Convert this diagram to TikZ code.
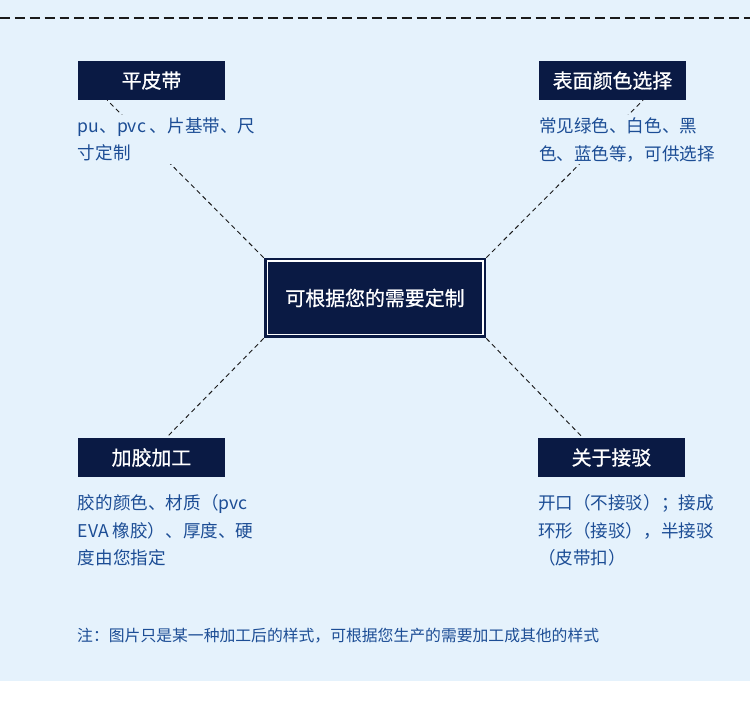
\documentclass[tikz,border=0pt]{standalone}
\usepackage{fontspec}
\setmainfont{Noto Sans CJK SC}
\newfontfamily\headfont[FakeBold=0.8]{Noto Sans CJK SC}
\usepackage{xcolor}
\definecolor{dark-navy}{HTML}{0A1A44}
\definecolor{text-blue}{HTML}{1C4D95}
\definecolor{pale-blue}{HTML}{E5F2FC}
\definecolor{line-grey}{HTML}{1A1A1A}
\usepackage{tikz}
\usetikzlibrary{positioning}
\usetikzlibrary{calc}
\tikzset{box/.style = {fill=dark-navy, text=white, minimum width=4.41cm, minimum height=1.17cm, inner sep=0pt, font=\headfont\fontsize{17}{20}\selectfont}}
\tikzset{hub/.style = {fill=dark-navy, draw=dark-navy, double=white, line width=2.2pt, double distance=1.7pt, text=white, minimum width=6.45cm, minimum height=2.19cm, font=\headfont\fontsize{17}{20}\selectfont}}
\tikzset{desc/.style = {align=left, text=text-blue, fill=pale-blue, inner xsep=0pt, inner ysep=2pt, font=\fontsize{15}{23.4}\selectfont}}
\tikzset{link/.style = {line-grey, line width=0.8pt, dash pattern=on 4pt off 3pt}}

\begin{document}
\begin{tikzpicture}[x=0.03cm, y=-0.03cm,
  node distance = .45cm
]

\fill[pale-blue] (0,0) rectangle (750,681);
\useasboundingbox (0,0) rectangle (750,713);
\draw[line-grey, line width=1.1pt, dash pattern=on 8.5pt off 4.2pt] (0,18) -- (750,18);

\node[hub] (mid) at (375,298) {可根据您的需要定制};
\node[box] (b1) at (151.5,80.5) {平皮带};
\node[box] (b2) at (612.5,80.5) {表面颜色选择};
\node[box] (b3) at (151.5,457.5) {加胶加工};
\node[box] (b4) at (611.5,457.5) {关于接驳};

% links go under the text blocks
\draw[link, shorten <=3pt] (mid.north west) -- ($(b1.south west)!0.2!(b1.south east)$);
\draw[link, shorten <=3pt] (mid.north east) -- ($(b2.south west)!0.707!(b2.south east)$);
\draw[link, shorten <=3pt] (mid.south west) -- ($(b3.north west)!0.6!(b3.north east)$);
\draw[link, shorten <=3pt] (mid.south east) -- ($(b4.north west)!0.306!(b4.north east)$);

\node[desc, below=of b1.south west, anchor=north west] (t1) {
  pu、pvc 、片基带、尺 \\
  寸定制
};
\node[desc, below=of b2.south west, anchor=north west] (t2) {
  常见绿色、白色、黑 \\
  色、蓝色等，可供选择
};
\node[desc, below=of b3.south west, anchor=north west] (t3) {
  胶的颜色、材质（pvc \\
  EVA 橡胶）、厚度、硬 \\
  度由您指定
};
\node[desc, below=of b4.south west, anchor=north west] (t4) {
  开口（不接驳）；接成 \\
  环形（接驳），半接驳 \\
  （皮带扣）
};

\node[anchor=west, inner sep=0pt, text=text-blue, font=\fontsize{13.5}{16}\selectfont] (memo) at (77,636) {注：图片只是某一种加工后的样式，可根据您生产的需要加工成其他的样式};

\end{tikzpicture}
\end{document}
